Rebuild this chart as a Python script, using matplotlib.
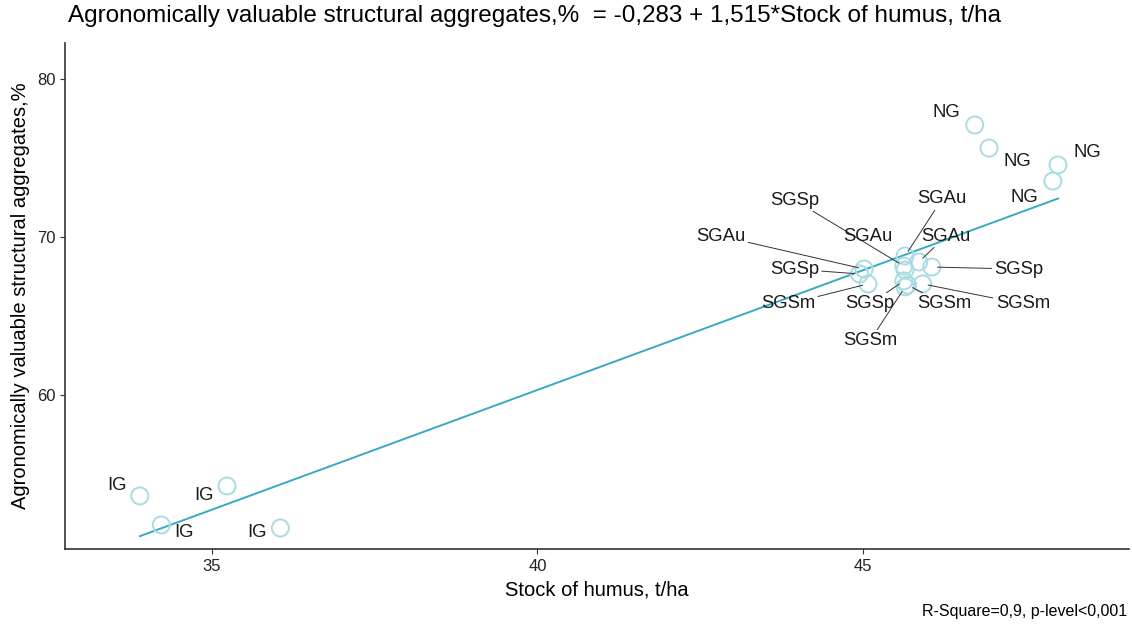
import matplotlib.pyplot as plt
import numpy as np

plt.rcParams['font.family'] = ['Liberation Sans', 'DejaVu Sans']

# humus stock (t/ha) and share of valuable aggregates (%) per plot
groups = ['IG', 'IG', 'IG', 'IG',
          'NG', 'NG', 'NG', 'NG',
          'SGAu', 'SGSp', 'SGSm', 'SGSp', 'SGAu', 'SGAu',
          'SGAu', 'SGSp', 'SGSp', 'SGSm', 'SGSm', 'SGSm']
humus = [33.89, 35.23, 34.22, 36.05,
         46.72, 46.94, 48.00, 47.92,
         45.02, 44.95, 45.08, 45.63, 45.65, 45.65,
         45.86, 46.06, 45.63, 45.69, 45.92, 45.65]
aggregates = [53.61, 54.24, 51.77, 51.58,
              77.09, 75.63, 74.56, 73.54,
              67.97, 67.66, 67.03, 68.16, 67.91, 68.80,
              68.42, 68.10, 67.22, 66.96, 67.03, 66.84]

# repelled label positions and whether a leader segment is drawn
label_x = [33.54, 34.88, 34.57, 35.69,
           46.29, 47.37, 48.45, 47.49,
           42.82, 43.95, 43.85, 43.95, 45.08, 46.22,
           46.28, 47.40, 45.11, 46.25, 47.46, 45.11]
label_y = [54.24, 53.61, 51.27, 51.27,
           77.91, 74.75, 75.32, 72.47,
           70.06, 67.97, 65.76, 72.34, 70.06, 72.41,
           70.06, 67.97, 65.76, 65.76, 65.76, 63.42]
has_segment = [False] * 8 + [True, True, True, True, False, True,
                             True, True, True, True, True, True]

intercept, slope = -0.283, 1.515

fig = plt.figure(figsize=(11.32, 6.27), dpi=100)
ax = fig.add_axes([0.0574, 0.1244, 0.9399, 0.807])

line_color = '#3aa9c2'
point_color = '#a9dbe4'

xs = np.array([min(humus), max(humus)])
ax.plot(xs, intercept + slope * xs, color=line_color, lw=1.4, zorder=2)
ax.scatter(humus, aggregates, s=150, facecolors='none',
           edgecolors=point_color, linewidths=1.4, zorder=3)

for g, px, py, lx, ly, seg in zip(groups, humus, aggregates,
                                  label_x, label_y, has_segment):
    arrow = dict(arrowstyle='-', color='#333333', lw=0.7,
                 shrinkA=0, shrinkB=4) if seg else None
    ax.annotate(g, xy=(px, py), xytext=(lx, ly), ha='center', va='center',
                fontsize=13.3, color='#1a1a1a', arrowprops=arrow, zorder=4)

ax.set_xlim(32.74, 49.09)
ax.set_ylim(50.25, 82.28)
ax.set_xticks([35, 40, 45])
ax.set_yticks([60, 70, 80])
ax.tick_params(labelsize=12, colors='#333333', length=3.5, width=0.8)
ax.tick_params(labelcolor='#222222')
for side in ['top', 'right']:
    ax.spines[side].set_visible(False)
for side in ['left', 'bottom']:
    ax.spines[side].set_linewidth(1.2)
    ax.spines[side].set_color('#333333')

ax.set_xlabel('Stock of humus, t/ha', fontsize=14.5, labelpad=5)
ax.set_ylabel('Agronomically valuable structural aggregates,%',
              fontsize=14.5, labelpad=5)
fig.text(0.0601, 0.974,
         'Agronomically valuable structural aggregates,%  = -0,283 + 1,515*Stock of humus, t/ha',
         fontsize=17.5, ha='left', va='center')
fig.text(0.996, 0.025, 'R-Square=0,9, p-level<0,001',
         fontsize=11.5, ha='right', va='center')

fig.savefig('out.png', dpi=100)
